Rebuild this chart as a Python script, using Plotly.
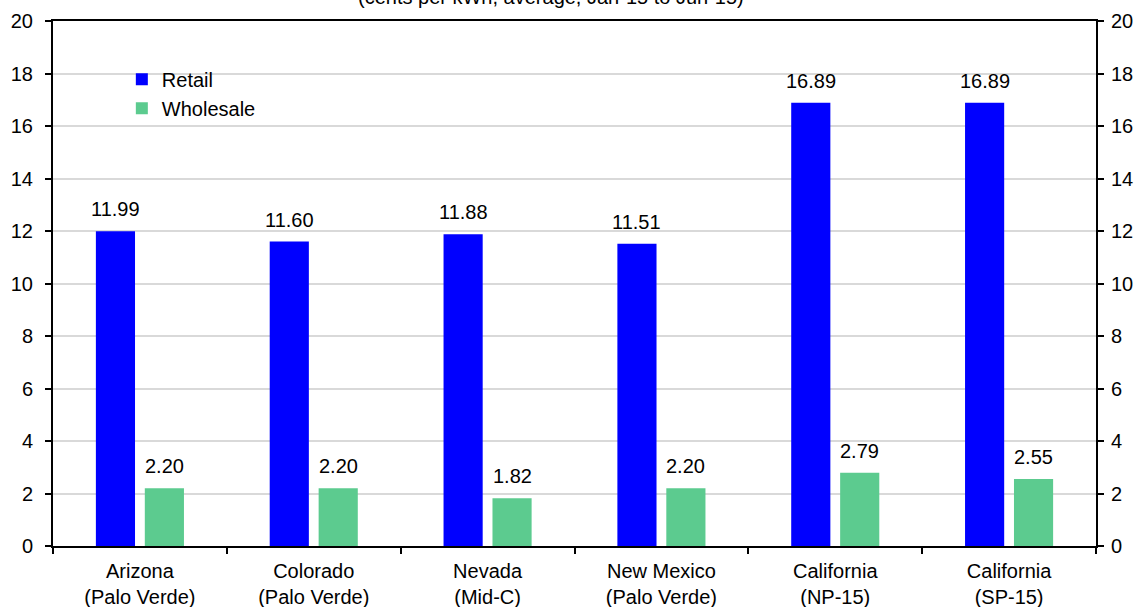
import plotly.graph_objects as go

categories = ["Arizona<br>(Palo Verde)", "Colorado<br>(Palo Verde)", "Nevada<br>(Mid-C)",
              "New Mexico<br>(Palo Verde)", "California<br>(NP-15)", "California<br>(SP-15)"]
retail = [11.99, 11.60, 11.88, 11.51, 16.89, 16.89]
wholesale = [2.20, 2.20, 1.82, 2.20, 2.79, 2.55]
yticks = [0, 2, 4, 6, 8, 10, 12, 14, 16, 18, 20]
subtitle = "(cents per kWh, average, Jan-15 to Jun-15)"

FONT = "Liberation Sans, Arial, sans-serif"
FS = 20

fig = go.Figure()
fig.add_trace(go.Bar(name="Retail", x=categories, y=retail, marker_color="#0000FF",
                     marker_line_width=0))
fig.add_trace(go.Bar(name="Wholesale", x=categories, y=wholesale, marker_color="#5CCB8F",
                     marker_line_width=0))
# invisible trace for right axis
fig.add_trace(go.Scatter(x=categories, y=retail, yaxis="y2", mode="markers",
                         marker=dict(opacity=0), showlegend=False, hoverinfo="skip"))

annotations = [dict(text=subtitle, xref="paper", yref="paper", x=0.477, y=1.021,
                    xanchor="center", yanchor="bottom", showarrow=False,
                    font=dict(size=FS))]
for series, shift in ((retail, -24.5), (wholesale, 24.5)):
    for c, v in zip(categories, series):
        annotations.append(dict(text=f"{v:.2f}", x=c, y=v, xref="x", yref="y",
                                xanchor="center", yanchor="bottom", xshift=shift,
                                yshift=9, showarrow=False, font=dict(size=FS)))

fig.update_layout(
    width=1138, height=607,
    margin=dict(l=53, r=42, t=21, b=61, autoexpand=False),
    paper_bgcolor="white", plot_bgcolor="white",
    font=dict(family=FONT, size=FS, color="black"),
    barmode="group", bargap=0.437, bargroupgap=0.2,
    showlegend=True,
    legend=dict(x=0.066, y=0.926, xanchor="left", yanchor="top",
                bgcolor="rgba(0,0,0,0)", font=dict(size=FS), tracegroupgap=0,
                itemwidth=30),
    xaxis=dict(type="category", tickson="boundaries", ticks="outside", ticklen=6,
               tickcolor="black", tickwidth=2, showline=True, linecolor="black",
               linewidth=2, mirror=True, showgrid=False, tickfont=dict(size=FS),
               ticklabelstandoff=6, automargin=False),
    yaxis=dict(range=[0, 20], tickvals=yticks, ticks="outside", ticklen=6,
               tickcolor="black", tickwidth=2, showline=True, linecolor="black",
               linewidth=2, showgrid=True, gridcolor="#D9D9D9", gridwidth=2,
               zeroline=False, tickfont=dict(size=FS), ticklabelstandoff=8,
               automargin=False),
    yaxis2=dict(range=[0, 20], tickvals=yticks, overlaying="y", side="right",
                ticks="outside", ticklen=6, tickcolor="black", tickwidth=2,
                showline=True, linecolor="black", linewidth=2, showgrid=False,
                zeroline=False, tickfont=dict(size=FS), ticklabelstandoff=3,
                automargin=False),
    annotations=annotations,
)

fig.write_html("out.html")
